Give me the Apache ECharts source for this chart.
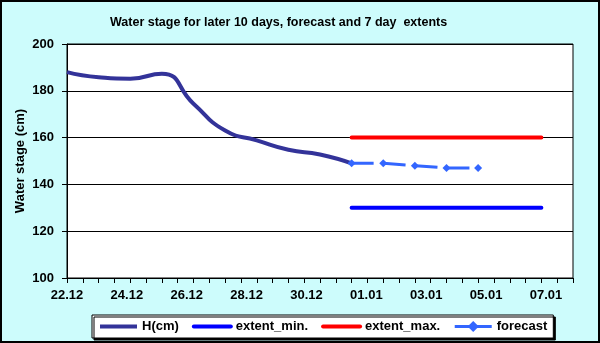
<!DOCTYPE html>
<html>
<head>
<meta charset="utf-8">
<script src="https://cdn.jsdelivr.net/npm/echarts@6/dist/echarts.min.js"></script>
<style>
  html, body { margin: 0; padding: 0; }
  #chart { width: 600px; height: 343px; }
</style>
</head>
<body>
<div id="chart"></div>
<script>
// days shown on the x axis (22.12 .. 07.01)
var dayAxis = ['22.12', '23.12', '24.12', '25.12', '26.12', '27.12', '28.12', '29.12', '30.12',
    '31.12', '01.01', '02.01', '03.01', '04.01', '05.01', '06.01', '07.01'];
var tickLabels = ['22.12', '24.12', '26.12', '28.12', '30.12', '01.01', '03.01', '05.01', '07.01'];

// observed stage, last 10 days
var hDates = ['22.12', '23.12', '24.12', '25.12', '26.12', '27.12', '28.12', '29.12', '30.12', '31.12'];
var hValues = [188, 185.8, 185.2, 187.3, 174.5, 163, 158.8, 154.8, 152.8, 149];

// forecast
var fcDates = ['31.12', '01.01', '02.01', '03.01', '04.01'];
var fcValues = [149, 149, 148, 147, 147];

// 7 day extents
var extDates = ['31.12', '01.01', '02.01', '03.01', '04.01', '05.01', '06.01'];
var extMin = [130, 130, 130, 130, 130, 130, 130];
var extMax = [160, 160, 160, 160, 160, 160, 160];

function pts(dates, vals) {
    return dates.map(function (d, i) { return [dayAxis.indexOf(d), vals[i]]; });
}

var font = "'Liberation Sans', Arial, sans-serif";

window.onload = function () {
    var chart = echarts.init(document.getElementById('chart'));
    chart.setOption({
        animation: false,
        backgroundColor: '#cdfcfc',
        title: {
            text: 'Water stage for later 10 days, forecast and 7 day  extents',
            left: 110,
            top: 16,
            padding: 0,
            textStyle: { fontFamily: font, fontSize: 12.5, fontWeight: 'bold', color: '#000' }
        },
        graphic: [{
            type: 'rect',
            silent: true,
            z: 100,
            shape: { x: 1, y: 1, width: 598, height: 341 },
            style: { fill: null, stroke: '#000', lineWidth: 2 }
        }],
        legend: {
            left: 92,
            top: 315,
            padding: [5, 6],
            itemWidth: 37,
            itemHeight: 14,
            itemGap: 13,
            backgroundColor: '#fff',
            borderColor: '#000',
            borderWidth: 1,
            borderRadius: 0,
            shadowColor: '#000',
            shadowOffsetX: 2,
            shadowOffsetY: 2,
            shadowBlur: 0,
            lineStyle: { width: 4 },
            textStyle: { fontFamily: font, fontSize: 13, fontWeight: 'bold', color: '#000' },
            data: [
                { name: 'H(cm)', itemStyle: { opacity: 0 } },
                { name: 'extent_min.', itemStyle: { opacity: 0 } },
                { name: 'extent_max.', itemStyle: { opacity: 0 } },
                { name: 'forecast', lineStyle: { type: 'solid', width: 3 } }
            ]
        },
        grid: [{
            left: 67, right: 27, top: 44, bottom: 65,
            show: true,
            backgroundColor: '#fff',
            borderColor: '#000',
            borderWidth: 1
        }, {
            left: 67, width: 479, top: 44, bottom: 65,
            show: false
        }],
        xAxis: [{
            type: 'value',
            gridIndex: 0,
            min: 0,
            max: 16,
            interval: 0.5,
            axisLine: { lineStyle: { color: '#000', width: 1 } },
            axisTick: { show: true, inside: false, length: 5, lineStyle: { color: '#000' } },
            axisLabel: { show: false },
            splitLine: { show: false }
        }, {
            type: 'category',
            gridIndex: 1,
            boundaryGap: false,
            data: tickLabels,
            axisLine: { show: false },
            axisTick: { show: false },
            axisLabel: {
                interval: 0,
                margin: 11,
                fontFamily: font, fontSize: 13, fontWeight: 'bold', color: '#000'
            }
        }],
        yAxis: [{
            type: 'value',
            gridIndex: 0,
            min: 100,
            max: 200,
            interval: 20,
            name: 'Water stage (cm)',
            nameLocation: 'middle',
            nameGap: 40,
            nameMoveOverlap: false,
            nameTextStyle: { fontFamily: font, fontSize: 13, fontWeight: 'bold', color: '#000' },
            axisLine: { show: true, lineStyle: { color: '#000', width: 1 } },
            axisTick: { show: true, inside: false, length: 5, lineStyle: { color: '#000' } },
            axisLabel: { margin: 13, fontFamily: font, fontSize: 13, fontWeight: 'bold', color: '#000' },
            splitLine: { show: true, lineStyle: { color: '#000', width: 1 } }
        }, {
            type: 'value',
            gridIndex: 1,
            show: false
        }],
        series: [{
            name: 'H(cm)',
            type: 'line',
            smooth: 0.55,
            symbol: 'none',
            color: '#333399',
            lineStyle: { width: 4, color: '#333399' },
            data: pts(hDates, hValues)
        }, {
            name: 'extent_min.',
            type: 'line',
            symbol: 'none',
            color: '#0000ff',
            lineStyle: { width: 4, color: '#0000ff', cap: 'round' },
            data: pts(extDates, extMin)
        }, {
            name: 'extent_max.',
            type: 'line',
            symbol: 'none',
            color: '#ff0000',
            lineStyle: { width: 4, color: '#ff0000', cap: 'round' },
            data: pts(extDates, extMax)
        }, {
            name: 'forecast',
            type: 'line',
            symbol: 'diamond',
            symbolSize: 8,
            showAllSymbol: true,
            color: '#3366ff',
            itemStyle: { color: '#3366ff' },
            lineStyle: { width: 3, color: '#3366ff', type: [22, 10] },
            data: pts(fcDates, fcValues)
        }]
    });
};
</script>
</body>
</html>
